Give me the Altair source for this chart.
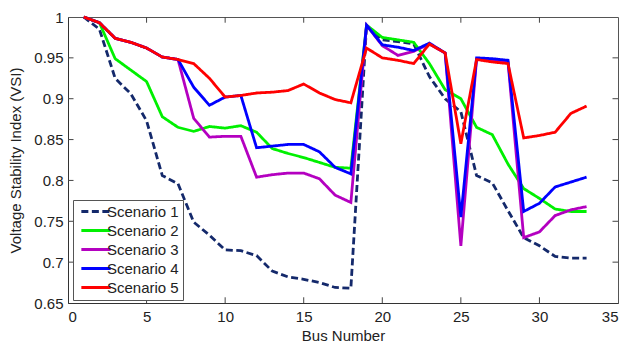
import altair as alt
import pandas as pd

bus = list(range(1, 34))
names = ["Scenario 1", "Scenario 2", "Scenario 3", "Scenario 4", "Scenario 5"]
colors = ["#14296b", "#00f000", "#b400c0", "#0000ff", "#ff0000"]

s1 = [1.0, 0.985, 0.925, 0.906, 0.873, 0.806, 0.796, 0.749, 0.733, 0.715, 0.714,
      0.708, 0.689, 0.682, 0.679, 0.675, 0.669, 0.668, 0.990, 0.972, 0.970, 0.967,
      0.927, 0.900, 0.884, 0.806, 0.797, 0.763, 0.730, 0.720, 0.707, 0.705, 0.705]
s2 = [1.0, 0.993, 0.949, 0.935, 0.921, 0.878, 0.865, 0.860, 0.866, 0.864, 0.867,
      0.859, 0.839, 0.833, 0.828, 0.822, 0.816, 0.815, 0.990, 0.975, 0.972, 0.969,
      0.943, 0.911, 0.900, 0.865, 0.856, 0.820, 0.790, 0.778, 0.765, 0.762, 0.762]
s3 = [1.0, 0.993, 0.974, 0.969, 0.962, 0.951, 0.948, 0.876, 0.853, 0.854, 0.854,
      0.804, 0.807, 0.809, 0.809, 0.802, 0.782, 0.773, 0.990, 0.965, 0.953, 0.958,
      0.967, 0.956, 0.720, 0.948, 0.947, 0.945, 0.730, 0.737, 0.757, 0.764, 0.768]
s4 = [1.0, 0.993, 0.974, 0.969, 0.962, 0.951, 0.948, 0.914, 0.892, 0.902, 0.904,
      0.840, 0.842, 0.844, 0.844, 0.835, 0.816, 0.808, 0.990, 0.966, 0.963, 0.959,
      0.968, 0.956, 0.755, 0.950, 0.949, 0.947, 0.762, 0.772, 0.792, 0.798, 0.804]
s5 = [1.0, 0.993, 0.974, 0.969, 0.962, 0.951, 0.948, 0.943, 0.925, 0.902, 0.904,
      0.907, 0.908, 0.910, 0.918, 0.907, 0.899, 0.895, 0.962, 0.950, 0.947, 0.943,
      0.967, 0.956, 0.845, 0.948, 0.945, 0.943, 0.852, 0.855, 0.859, 0.882, 0.891]

x_ticks = [0, 5, 10, 15, 20, 25, 30, 35]
y_ticks = [0.65, 0.7, 0.75, 0.8, 0.85, 0.9, 0.95, 1.0]

rows = []
for name, series in zip(names, [s1, s2, s3, s4, s5]):
    for b, v in zip(bus, series):
        rows.append({"Bus": b, "VSI": v, "Scenario": name})
df = pd.DataFrame(rows)

FONT = "Liberation Sans"
xscale = alt.Scale(domain=[0, 35], nice=False)
yscale = alt.Scale(domain=[0.65, 1.0], nice=False, zero=False)

legend = alt.Legend(
    title=None, orient="none", legendX=5, legendY=183,
    symbolType="M-0.6,0H5", symbolSize=110, symbolStrokeWidth=3,
    labelFontSize=15, labelFont=FONT, labelColor="#222",
    strokeColor="#555", fillColor="white", padding=4, rowPadding=3,
    labelOffset=15,
)

lines = alt.Chart(df).mark_line(strokeWidth=2.8).encode(
    x=alt.X("Bus:Q", scale=xscale,
            axis=alt.Axis(values=x_ticks, title="Bus Number", ticks=False,
                          labelPadding=6, titlePadding=4, grid=False)),
    y=alt.Y("VSI:Q", scale=yscale,
            axis=alt.Axis(values=y_ticks, format="~g", title="Voltage Stability Index (VSI)",
                          ticks=False, labelPadding=5, titlePadding=10, grid=False)),
    color=alt.Color("Scenario:N", scale=alt.Scale(domain=names, range=colors), legend=legend),
    strokeDash=alt.StrokeDash("Scenario:N",
                              scale=alt.Scale(domain=names, range=[[7, 3.5], [1, 0], [1, 0], [1, 0], [1, 0]]),
                              legend=legend),
)

xt = pd.DataFrame({"t": x_ticks[1:-1]})
yt = pd.DataFrame({"t": y_ticks[1:-1]})
tick_color = "#444"
bx = alt.Chart(xt).mark_rule(color=tick_color, strokeWidth=1).encode(
    x=alt.X("t:Q", scale=xscale), y=alt.datum(0.65), y2=alt.datum(0.657))
tx = alt.Chart(xt).mark_rule(color=tick_color, strokeWidth=1).encode(
    x=alt.X("t:Q", scale=xscale), y=alt.datum(1.0), y2=alt.datum(0.993))
ly = alt.Chart(yt).mark_rule(color=tick_color, strokeWidth=1).encode(
    y=alt.Y("t:Q", scale=yscale), x=alt.datum(0), x2=alt.datum(0.35))
ry = alt.Chart(yt).mark_rule(color=tick_color, strokeWidth=1).encode(
    y=alt.Y("t:Q", scale=yscale), x=alt.datum(35), x2=alt.datum(34.65))

chart = alt.layer(lines, bx, tx, ly, ry).properties(
    width=550, height=286,
    background="white",
    autosize=alt.AutoSizeParams(type="none"),
    padding={"left": 68, "top": 17, "right": 10, "bottom": 44},
).configure_view(stroke="#555", strokeWidth=1).configure_axis(
    labelFont=FONT, titleFont=FONT, labelFontSize=15, titleFontSize=15,
    titleFontWeight="normal", labelColor="#222", titleColor="#222",
    domainColor="#333",
)

chart.save("out.html", embed_options={"renderer": "svg", "actions": False})
